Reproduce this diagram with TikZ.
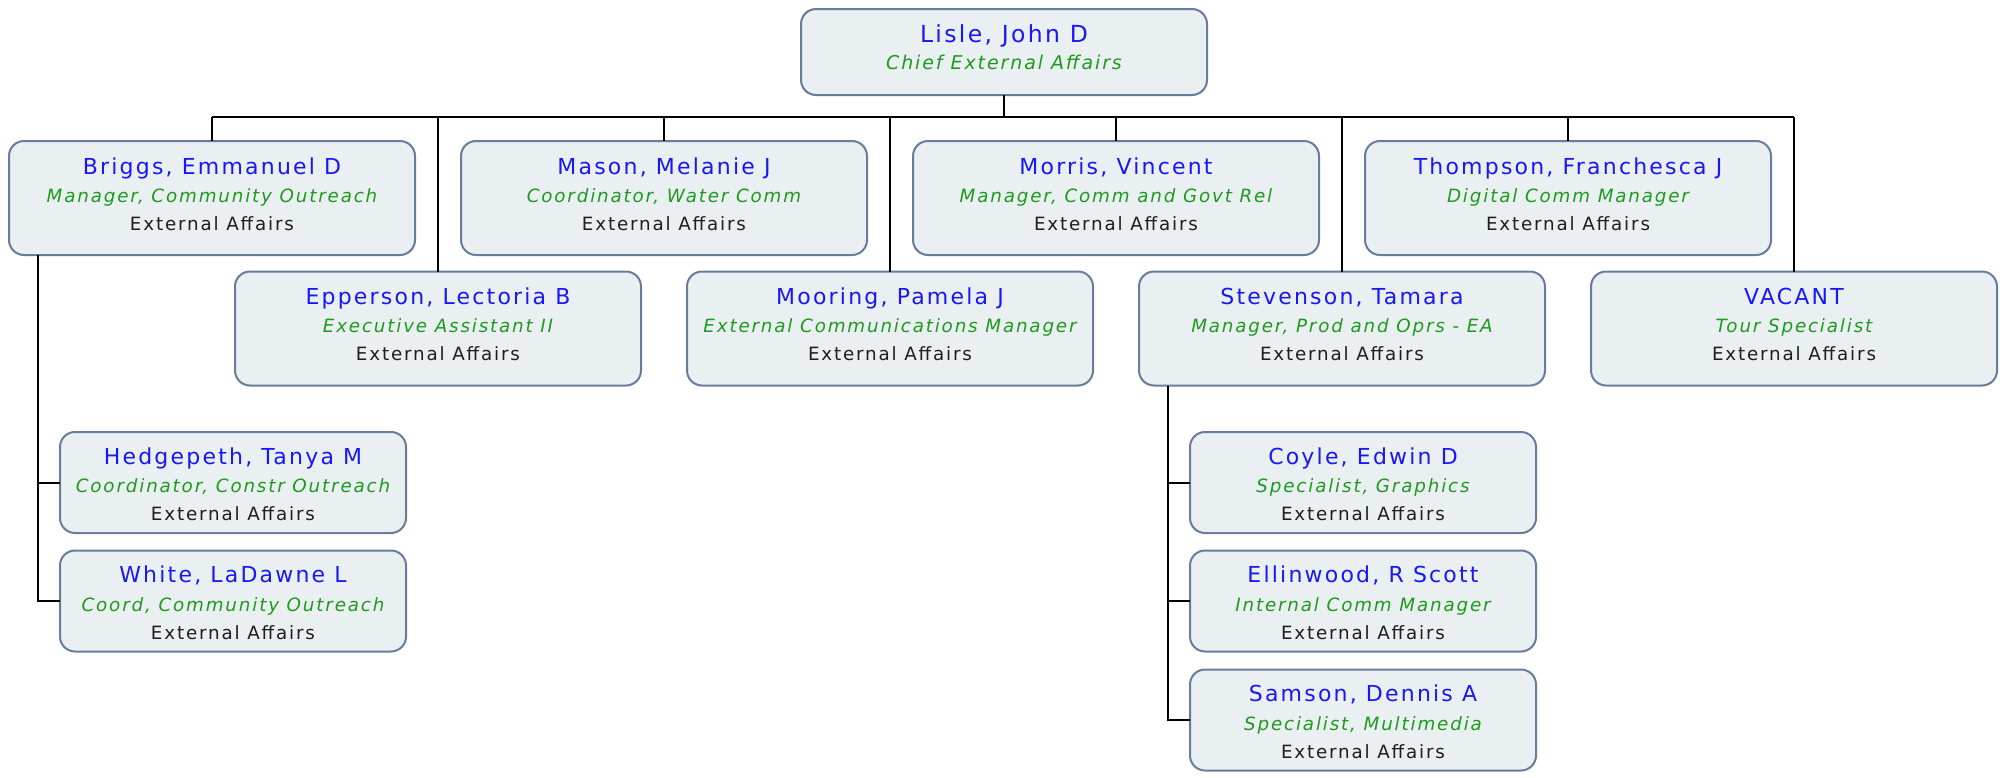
\documentclass[tikz,border=0pt]{standalone}
\usepackage{fontspec}
\setmainfont{DejaVu Sans}[LetterSpace=10]
\usetikzlibrary{calc}
\definecolor{nameblue}{RGB}{24,24,245}
\definecolor{titlegreen}{RGB}{30,155,30}
\definecolor{depttext}{RGB}{30,30,30}
\definecolor{boxfill}{RGB}{234,239,242}
\definecolor{boxline}{RGB}{104,124,156}
\tikzset{
  card/.style={draw=boxline, fill=boxfill, line width=2pt, rounded corners=15pt, outer sep=0pt, inner sep=0pt},
  bigcard/.style={card, minimum width=406pt, minimum height=114pt},
  smallcard/.style={card, minimum width=346pt, minimum height=101pt},
  topcard/.style={card, minimum width=406pt, minimum height=86pt},
  nametext/.style={anchor=base, inner sep=0pt, text=nameblue, font=\fontsize{22}{26}\selectfont},
  titletext/.style={anchor=base, inner sep=0pt, text=titlegreen, font=\fontsize{18.3}{22}\selectfont\itshape},
  depttext/.style={anchor=base, inner sep=0pt, text=depttext, font=\fontsize{18.3}{22}\selectfont},
  link/.style={draw=black, line width=2pt}
}
\newcommand\bigperson[5]{%
  \node[bigcard] (#1) at (#2,#3) {};
  \node[nametext] (#1-n) at ([yshift=24pt]#1.center) {#4};
  \node[titletext] (#1-t) at ([yshift=-4pt]#1.center) {#5};
  \node[depttext] (#1-d) at ([yshift=-32pt]#1.center) {External Affairs};
}
\newcommand\smallperson[5]{%
  \node[smallcard] (#1) at (#2,#3) {};
  \node[nametext] (#1-n) at ([yshift=18.2pt]#1.center) {#4};
  \node[titletext] (#1-t) at ([yshift=-10.4pt]#1.center) {#5};
  \node[depttext] (#1-d) at ([yshift=-38.3pt]#1.center) {External Affairs};
}
\begin{document}
\begin{tikzpicture}[x=1pt,y=-1pt]
\useasboundingbox (0,0) rectangle (2007,777);
% top
\node[topcard] (lisle) at (1004,52) {};
\node[nametext, font=\fontsize{23.5}{28}\selectfont] (lisle-n) at ([yshift=10pt]lisle.center) {Lisle, John D};
\node[titletext, font=\fontsize{19}{23}\selectfont\itshape] (lisle-t) at ([yshift=-17pt]lisle.center) {Chief External Affairs};
% row 1
\bigperson{briggs}{212}{198}{Briggs, Emmanuel D}{Manager, Community Outreach}
\bigperson{mason}{664}{198}{Mason, Melanie J}{Coordinator, Water Comm}
\bigperson{morris}{1116}{198}{Morris, Vincent}{Manager, Comm and Govt Rel}
\bigperson{thompson}{1568}{198}{Thompson, Franchesca J}{Digital Comm Manager}
% row 2
\bigperson{epperson}{438}{328.5}{Epperson, Lectoria B}{Executive Assistant II}
\bigperson{mooring}{890}{328.5}{Mooring, Pamela J}{External Communications Manager}
\bigperson{stevenson}{1342}{328.5}{Stevenson, Tamara}{Manager, Prod and Oprs - EA}
\bigperson{vacant}{1794}{328.5}{VACANT}{Tour Specialist}
% children
\smallperson{hedgepeth}{233}{482.5}{Hedgepeth, Tanya M}{Coordinator, Constr Outreach}
\smallperson{white}{233}{601}{White, LaDawne L}{Coord, Community Outreach}
\smallperson{coyle}{1363}{482.5}{Coyle, Edwin D}{Specialist, Graphics}
\smallperson{ellinwood}{1363}{601}{Ellinwood, R Scott}{Internal Comm Manager}
\smallperson{samson}{1363}{720}{Samson, Dennis A}{Specialist, Multimedia}
% connectors
\coordinate (bus) at (1004,117);
\draw[link] (lisle.south) -- (lisle.south |- bus);
\draw[link] (briggs.north |- bus) -- (vacant.north |- bus);
\foreach \n in {briggs,mason,morris,thompson,epperson,mooring,stevenson,vacant}
  \draw[link] (\n.north) -- (\n.north |- bus);
\coordinate (btrunk) at ($(briggs.south west)+(29,0)$);
\draw[link] (btrunk) |- (white.west);
\draw[link] (btrunk |- hedgepeth.west) -- (hedgepeth.west);
\coordinate (strunk) at ($(stevenson.south west)+(29,0)$);
\draw[link] (strunk) |- (samson.west);
\draw[link] (strunk |- coyle.west) -- (coyle.west);
\draw[link] (strunk |- ellinwood.west) -- (ellinwood.west);
\end{tikzpicture}
\end{document}
